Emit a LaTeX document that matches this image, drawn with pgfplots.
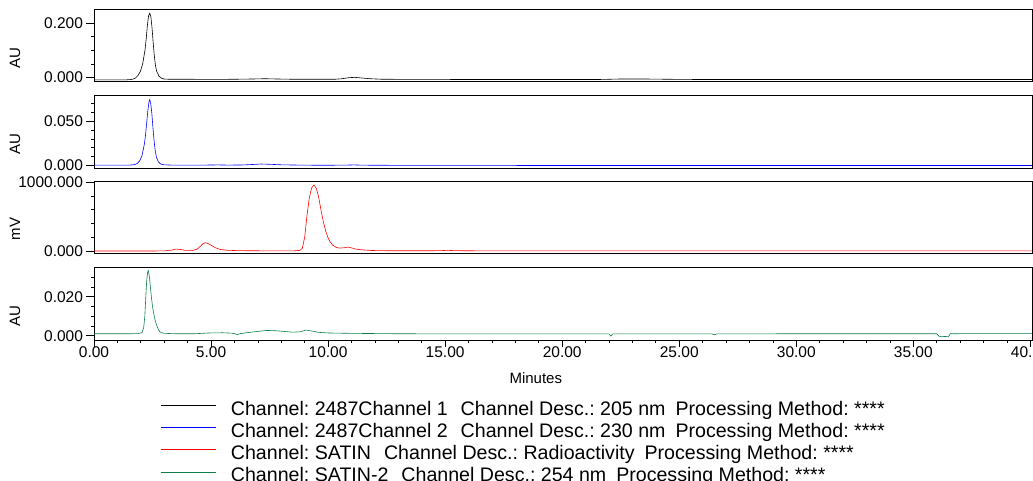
\documentclass[border=0pt]{standalone}
\usepackage{fontspec}
\setmainfont{Liberation Sans}
\usepackage{pgfplots}
\pgfplotsset{compat=1.18}
\definecolor{cblue}{RGB}{0,0,255}
\definecolor{cred}{RGB}{255,0,0}
\definecolor{cgreen}{RGB}{10,128,70}
\frenchspacing
\pgfplotsset{
  chrom/.style={
    scale only axis, width=938pt,
    xmin=0, xmax=40.07,
    axis line style={black, line width=0.8pt},
    tick style={black, line width=0.7pt},
    tick align=outside,
    major tick length=7.5pt, minor tick length=3.5pt,
    ytick pos=left,
    xtick pos=bottom,
    scaled y ticks=false, scaled x ticks=false,
    tick label style={font=\fontsize{15.5}{18}\selectfont},
    label style={font=\fontsize{15}{18}\selectfont},
    y tick label style={/pgf/number format/fixed, /pgf/number format/fixed zerofill, /pgf/number format/precision=3, /pgf/number format/1000 sep={}, /pgf/number format/assume math mode=true},
    x tick label style={yshift=4pt, /pgf/number format/fixed, /pgf/number format/fixed zerofill, /pgf/number format/precision=2, /pgf/number format/assume math mode=true},
    ylabel style={at={(axis description cs:-0.0842,0.33)}, anchor=center},
    clip=true,
  },
  notx/.style={xtick=\empty, minor xtick=\empty},
}
\begin{document}
\begin{tikzpicture}
\useasboundingbox (0,0) rectangle (1033pt,481pt);
\clip (0,0) rectangle (1033pt,481pt);
% Panel 1
\begin{axis}[chrom, notx, at={(94pt,399.3pt)}, anchor=south west, height=72.7pt,
  ymin=-0.016, ymax=0.253, ytick={0,0.2}, minor ytick={0.05,0.1,0.15}, ylabel={AU}]
\addplot[black, line width=0.6pt] coordinates {
(0,-0.009) (0.5,-0.009) (1.0,-0.009) (1.4,-0.009) (1.58,-0.008) (1.68,-0.006) (1.78,-0.002) (1.88,0.007) (1.98,0.022) (2.08,0.050) (2.18,0.102) (2.23,0.142) (2.28,0.192) (2.33,0.227) (2.38,0.237) (2.43,0.224) (2.48,0.182) (2.53,0.127) (2.58,0.077) (2.63,0.042) (2.68,0.022) (2.78,0.004) (2.88,-0.003) (2.98,-0.006) (3.2,-0.007) (4,-0.007) (5,-0.0075) (6,-0.007) (6.8,-0.006) (7.3,-0.005) (7.8,-0.006) (8.5,-0.007) (9.5,-0.007) (10.3,-0.007) (10.6,-0.005) (10.9,-0.001) (11.15,0.0) (11.4,-0.002) (11.8,-0.005) (12.3,-0.007) (14,-0.0075) (17,-0.008) (20,-0.008) (21.5,-0.008) (22,-0.007) (22.5,-0.006) (23.5,-0.006) (24.5,-0.007) (26,-0.008) (30,-0.008) (35,-0.008) (40.1,-0.008)
};
\end{axis}
% Panel 2
\begin{axis}[chrom, notx, at={(94pt,313pt)}, anchor=south west, height=72.7pt,
  ymin=-0.003, ymax=0.0795, ytick={0,0.05}, minor ytick={0.01,0.02,0.03,0.04,0.06,0.07}, ylabel={AU}]
\addplot[cblue, line width=0.6pt] coordinates {
(0,0.0002) (1.4,0.0002) (1.6,0.0004) (1.75,0.0010) (1.85,0.0022) (1.95,0.0050) (2.05,0.0110) (2.15,0.0240) (2.2,0.0340) (2.25,0.0480) (2.3,0.0620) (2.35,0.0720) (2.38,0.0745) (2.42,0.0710) (2.47,0.0590) (2.52,0.0420) (2.57,0.0270) (2.62,0.0160) (2.67,0.0090) (2.75,0.0040) (2.85,0.0015) (3.0,0.0006) (3.3,0.0003) (4.5,0.0002) (5.0,0.0004) (5.3,0.0005) (5.7,0.0003) (6.3,0.0004) (6.8,0.0010) (7.15,0.0015) (7.5,0.0012) (8.0,0.0006) (9,0.0002) (10,0.0001) (10.8,0.0003) (11.1,0.0005) (11.5,0.0002) (13,0.0) (17,-0.0001) (25,-0.0002) (30,-0.0002) (40.1,-0.0002)
};
\end{axis}
% Panel 3
\begin{axis}[chrom, notx, at={(94pt,228pt)}, anchor=south west, height=72pt,
  ymin=-29, ymax=1019, ytick={0,1000}, minor ytick={200,400,600,800}, ylabel={mV}]
\addplot[cred, line width=0.6pt] coordinates {
(0,0) (2.5,0) (3.0,2) (3.3,12) (3.5,28) (3.7,22) (3.9,10) (4.2,8) (4.4,25) (4.55,70) (4.65,105) (4.75,120) (4.85,112) (5.0,85) (5.2,45) (5.4,22) (5.7,10) (6.2,5) (7,3) (8,2) (8.6,3) (8.8,10) (8.9,40) (9.0,200) (9.1,520) (9.2,780) (9.3,920) (9.4,960) (9.5,910) (9.6,780) (9.7,590) (9.8,420) (9.9,290) (10.0,190) (10.1,125) (10.2,85) (10.35,52) (10.5,42) (10.7,48) (10.85,57) (11.0,45) (11.2,27) (11.5,15) (11.9,7) (12.5,4) (14,3) (14.8,5) (15.1,10) (15.4,5) (16,3) (20,2) (30,1) (40.1,1)
};
\end{axis}
% Panel 4
\begin{axis}[chrom, at={(94pt,141pt)}, anchor=south west, height=73pt,
  ymin=-0.0022, ymax=0.0352, ytick={0,0.02}, minor ytick={0.005,0.01,0.015,0.025,0.03}, ylabel={AU},
  xtick={0,5,...,40}, minor x tick num=4,
  xlabel={Minutes}, xlabel style={at={(axis description cs:0.471,-0.52)}, anchor=center},
  legend style={at={(axis description cs:0.0704,-0.84)}, anchor=north west, draw=none, fill=none, inner sep=0pt,
    font=\fontsize{19.6}{22}\selectfont, row sep=3.9pt,
    nodes={inner sep=0pt, text height=14pt, text depth=4.2pt}},
  legend cell align=left,
  legend image code/.code={\draw[#1, line width=0.7pt] (0pt,5pt) -- (55pt,5pt);},
  /tikz/every odd column/.append style={column sep=15pt},
]
\addlegendimage{black}
\addlegendentry{Channel: 2487Channel 1\hspace{13pt}Channel Desc.: 205 nm\hspace{10pt}Processing Method: ****}
\addlegendimage{cblue}
\addlegendentry{Channel: 2487Channel 2\hspace{13pt}Channel Desc.: 230 nm\hspace{10pt}Processing Method: ****}
\addlegendimage{cred}
\addlegendentry{Channel: SATIN\hspace{13pt}Channel Desc.: Radioactivity\hspace{10pt}Processing Method: ****}
\addplot[cgreen, line width=0.6pt] coordinates {
(0,0.0010) (1.5,0.0010) (1.9,0.0011) (2.05,0.0016) (2.12,0.0040) (2.17,0.0097) (2.21,0.0190) (2.25,0.0280) (2.29,0.0325) (2.32,0.0333) (2.35,0.0315) (2.38,0.0286) (2.45,0.0200) (2.50,0.0150) (2.55,0.0115) (2.61,0.0080) (2.67,0.0055) (2.74,0.0035) (2.81,0.0020) (2.9,0.0015) (3.02,0.0012) (3.5,0.0010) (4.3,0.0010) (4.9,0.0014) (5.5,0.0015) (5.9,0.0013) (6.05,0.0009) (6.12,0.0005) (6.2,0.0009) (6.5,0.0015) (7.0,0.0022) (7.4,0.0027) (7.8,0.0025) (8.5,0.0018) (8.8,0.0020) (9.05,0.0029) (9.3,0.0024) (9.6,0.0017) (10,0.0014) (11,0.0012) (13,0.0010) (16,0.0009) (20,0.0009) (22.0,0.0009) (22.08,-0.0002) (22.16,0.0009) (26.4,0.0009) (26.5,0.0004) (26.6,0.0009) (30,0.0010) (35,0.0010) (36.0,0.0010) (36.1,-0.0003) (36.2,-0.0005) (36.35,-0.0004) (36.5,-0.0005) (36.58,0.0010) (38,0.0011) (40.1,0.0011)
};
\addlegendentry{Channel: SATIN-2\hspace{13pt}Channel Desc.: 254 nm\hspace{10pt}Processing Method: ****}
\end{axis}
\end{tikzpicture}
\end{document}
